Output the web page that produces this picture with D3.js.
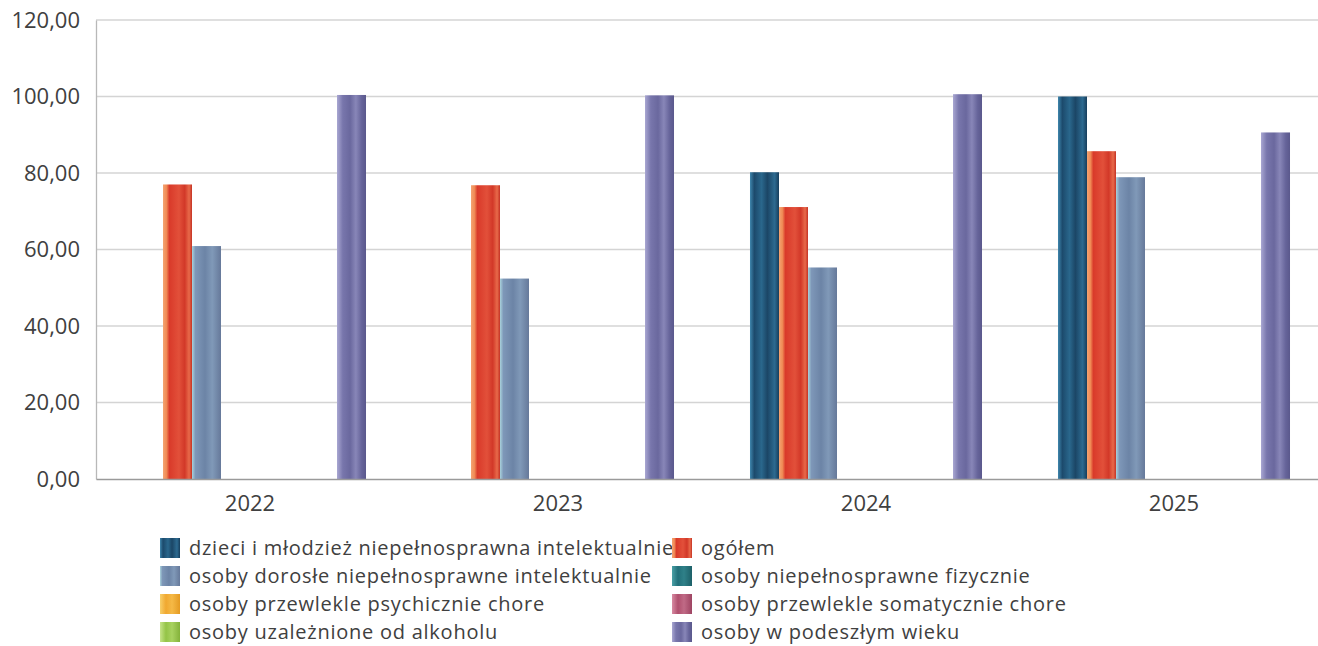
<!DOCTYPE html>
<html>
<head>
<meta charset="utf-8">
<script src="https://cdn.jsdelivr.net/npm/d3@7"></script>
<style>
  html, body { margin: 0; padding: 0; background: #ffffff; }
  svg { display: block; }
  text { font-family: "Open Sans", "Noto Sans", sans-serif; fill: #404040; }
</style>
</head>
<body>
<svg id="chart" width="1318" height="646"></svg>
<script>
const years = ["2022", "2023", "2024", "2025"];
const seriesNames = [
  "dzieci i młodzież niepełnosprawna intelektualnie",
  "ogółem",
  "osoby dorosłe niepełnosprawne intelektualnie",
  "osoby niepełnosprawne fizycznie",
  "osoby przewlekle psychicznie chore",
  "osoby przewlekle somatycznie chore",
  "osoby uzależnione od alkoholu",
  "osoby w podeszłym wieku"
];
const dzieci = [0, 0, 80.2, 100.0];
const ogolem = [77.0, 76.8, 71.1, 85.7];
const dorosle = [60.9, 52.4, 55.3, 78.9];
const fizycznie = [0, 0, 0, 0];
const psychicznie = [0, 0, 0, 0];
const somatycznie = [0, 0, 0, 0];
const alkohol = [0, 0, 0, 0];
const podeszly = [100.4, 100.3, 100.6, 90.6];
const yTicks = [0, 20, 40, 60, 80, 100, 120];

const seriesValues = [dzieci, ogolem, dorosle, fizycznie, psychicznie, somatycznie, alkohol, podeszly];

// striped gradient stops per series (offset, colour)
const seriesStops = [
  [[0, "#3f86ad"], [0.15, "#1c4a6c"], [0.4, "#2a678c"], [0.6, "#1b4666"], [0.85, "#2d6a90"], [1, "#173e5c"]],
  [[0, "#f4a472"], [0.12, "#f08a55"], [0.22, "#d93a2a"], [0.55, "#e2503a"], [0.75, "#d23828"], [0.9, "#e86a4a"], [1, "#c53224"]],
  [[0, "#a9d2dc"], [0.12, "#7e97b8"], [0.45, "#6c84a6"], [0.7, "#8099b8"], [1, "#66799a"]],
  [[0, "#4aa0a6"], [0.3, "#22707a"], [0.6, "#2f8088"], [1, "#1d6068"]],
  [[0, "#f8cf6a"], [0.3, "#f0a830"], [0.6, "#f5b946"], [1, "#e49a22"]],
  [[0, "#d88aa2"], [0.3, "#b0506e"], [0.6, "#c06a86"], [1, "#9e4462"]],
  [[0, "#c6e48a"], [0.3, "#94c447"], [0.6, "#a8d260"], [1, "#84b23a"]],
  [[0, "#a9a7d2"], [0.2, "#7876ac"], [0.45, "#6a689e"], [0.65, "#8886b8"], [0.85, "#66649a"], [1, "#5a588c"]]
];

const svg = d3.select("#chart");
const defs = svg.append("defs");
seriesStops.forEach((stops, i) => {
  const g = defs.append("linearGradient").attr("id", "grad" + i)
    .attr("x1", "0%").attr("x2", "100%").attr("y1", "0%").attr("y2", "0%");
  stops.forEach(s => g.append("stop").attr("offset", s[0]).attr("stop-color", s[1]));
});

const plotLeft = 96, plotTop = 20, plotBottom = 479;
const groupW = 308;

const x = d3.scaleBand().domain(years).range([plotLeft, plotLeft + groupW * years.length]).padding(0);
const xi = d3.scaleBand().domain(d3.range(seriesNames.length)).range([0, groupW]).paddingInner(0).paddingOuter(1.31);
const y = d3.scaleLinear().domain([0, 120]).range([plotBottom, plotTop]);

const fmt = v => d3.format(".2f")(v).replace(".", ",");

// gridlines
svg.append("g")
  .selectAll("line").data(yTicks.filter(t => t > 0)).join("line")
  .attr("x1", plotLeft).attr("x2", 1318)
  .attr("y1", d => y(d)).attr("y2", d => y(d))
  .attr("stroke", "#d4d4d4").attr("stroke-width", 1.3);

// y axis
const yAxis = svg.append("g").attr("transform", `translate(${plotLeft},0)`)
  .call(d3.axisLeft(y).tickValues(yTicks).tickFormat(fmt).tickSize(0).tickPadding(16));
yAxis.select(".domain").attr("stroke", "#b8b8b8").attr("stroke-width", 1.3);
yAxis.selectAll("text").style("font-size", "22px").attr("fill", "#404040")
  .style("font-family", '"Open Sans", sans-serif');

// bars
const groups = svg.append("g").selectAll("g").data(years).join("g")
  .attr("transform", d => `translate(${x(d)},0)`);
groups.selectAll("rect")
  .data((yr, yi) => seriesValues.map((vals, si) => ({ si, v: vals[yi] })))
  .join("rect")
  .attr("x", d => xi(d.si))
  .attr("width", xi.bandwidth())
  .attr("y", d => y(d.v))
  .attr("height", d => y(0) - y(d.v))
  .attr("fill", d => `url(#grad${d.si})`);

// x axis
const xAxis = svg.append("g").attr("transform", `translate(0,${plotBottom})`)
  .call(d3.axisBottom(x).tickSize(0).tickPadding(16));
xAxis.select(".domain").attr("stroke", "#9a9a9a").attr("stroke-width", 1.5);
xAxis.selectAll("text").style("font-size", "22px").attr("fill", "#404040")
  .style("font-family", '"Open Sans", sans-serif');

// legend: texts first, swatches on top
const legendCols = [160, 672];
const legendRows = [548, 576, 604, 632];
const legendTexts = svg.append("g");
const legendSwatches = svg.append("g");
seriesNames.forEach((name, i) => {
  const cx = legendCols[i % 2], cy = legendRows[Math.floor(i / 2)];
  legendTexts.append("text").attr("x", cx + 29).attr("y", cy).attr("dy", "0.35em")
    .style("font-size", "20px").style("letter-spacing", "0.75px").text(name);
  legendSwatches.append("rect").attr("x", cx).attr("y", cy - 10).attr("width", 20).attr("height", 20)
    .attr("fill", `url(#grad${i})`);
});
</script>
</body>
</html>
